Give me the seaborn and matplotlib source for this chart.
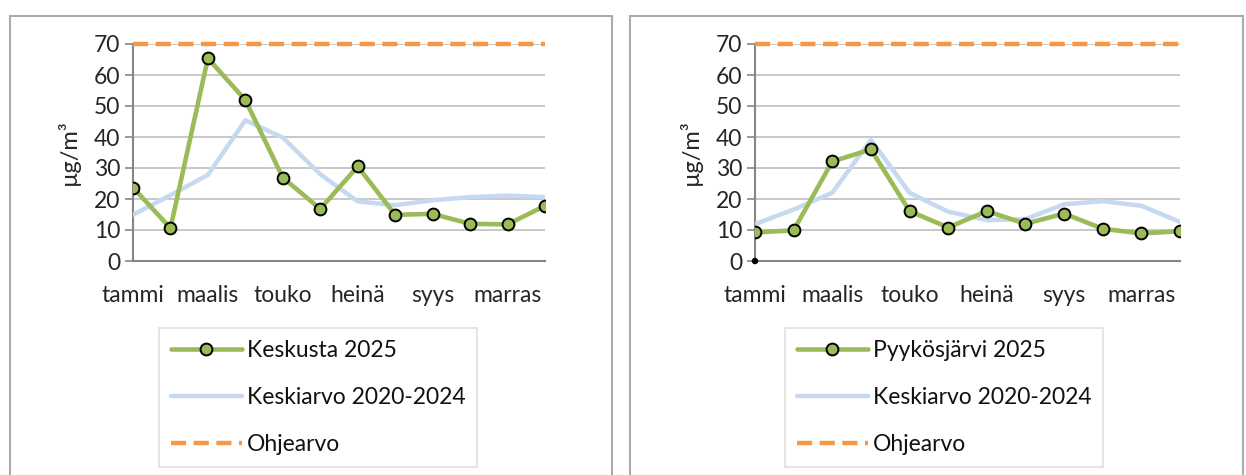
import numpy as np
import pandas as pd
import matplotlib
matplotlib.use("Agg")
import matplotlib.pyplot as plt
from matplotlib.patches import Rectangle
import seaborn as sns

sns.set_theme(style="white")
plt.rcParams['font.family'] = ['Lato', 'DejaVu Sans']
plt.rcParams['text.color'] = '#111111'

months = ["tammi", "helmi", "maalis", "huhti", "touko", "kesä",
          "heinä", "elo", "syys", "loka", "marras", "joulu"]

keskusta_2025 = [23.7, 10.6, 65.4, 51.9, 26.9, 16.8, 30.5, 14.9, 15.2, 12.0, 11.8, 17.8]
keskusta_avg = [14.9, 21.2, 27.8, 45.4, 39.8, 28.0, 19.2, 18.0, 19.6, 20.6, 21.1, 20.6]

pyk_2025 = [9.2, 9.9, 32.1, 36.0, 16.1, 10.8, 16.1, 12.0, 15.3, 10.4, 8.9, 9.6]
pyk_avg = [11.9, 16.6, 22.0, 39.1, 22.0, 15.9, 13.2, 13.5, 18.3, 19.3, 17.8, 12.6]
pyk_stray = [0.0]  # lone point shown at tammi

ohjearvo = [70, 70, 70, 70, 70, 70, 70, 70, 70, 70, 70, 70]

GREEN = '#9BBB59'
BLUE = '#C6D9F0'
ORANGE = '#F79646'
GRID = '#BFBFBF'
SPINE = '#868686'
FS = 16.5

W, H = 1246, 475
fig = plt.figure(figsize=(W / 100, H / 100), dpi=100)


def px(x0, y_top, x1, y_bot):
    return [x0 / W, (H - y_bot) / H, (x1 - x0) / W, (y_bot - y_top) / H]


# panel frames
for (l, r) in [(10, 612), (630, 1243)]:
    fig.add_artist(Rectangle((l / W, -0.05), (r - l) / W, (H - 16) / H + 0.05,
                             transform=fig.transFigure, fill=False,
                             edgecolor='#ABABAB', linewidth=1.5, zorder=0))


def draw_panel(ax, station, avg, label, legend_box, stray=None):
    xs = np.arange(len(months))
    df = pd.DataFrame({"kk": xs, "asema": station, "ka": avg, "ohje": ohjearvo})
    sns.lineplot(data=df, x="kk", y="ka", ax=ax, color=BLUE, linewidth=3.2,
                 label="Keskiarvo 2020-2024", zorder=3)
    sns.lineplot(data=df, x="kk", y="asema", ax=ax, color=GREEN, linewidth=3.3,
                 marker='o', markersize=8.5, markerfacecolor=GREEN,
                 markeredgecolor='black', markeredgewidth=1.4,
                 label=label, zorder=4)
    sns.lineplot(data=df, x="kk", y="ohje", ax=ax, color=ORANGE, linewidth=3.2,
                 dashes=False, label="Ohjearvo", zorder=5)
    ohje_line = ax.get_lines()[-1]
    ohje_line.set_dashes((3.4, 1.7))
    ohje_line.set_clip_on(False)
    if stray is not None:
        sns.scatterplot(x=xs[:len(stray)], y=stray, ax=ax, color='black', s=22,
                        edgecolor='none', zorder=6, clip_on=False, legend=False)

    ax.set_xlim(0, len(months) - 1)
    ax.set_ylim(0, 70)
    ax.set_yticks(range(0, 71, 10))
    ax.set_xticks(xs[::2])
    ax.set_xticklabels(months[::2])
    ax.grid(axis='y', color=GRID, linewidth=1.2)
    ax.grid(axis='x', visible=False)
    ax.set_axisbelow(True)
    for s in ['top', 'right']:
        ax.spines[s].set_visible(False)
    for s in ['left', 'bottom']:
        ax.spines[s].set_color(SPINE)
        ax.spines[s].set_linewidth(1.5)
    ax.tick_params(axis='y', length=6, width=1.2, color=SPINE, labelsize=FS, pad=3,
                   left=True)
    ax.tick_params(axis='x', length=0, labelsize=FS, pad=17)
    ax.set_xlabel("")
    ax.set_ylabel("µg/m³", fontsize=FS + 0.5, labelpad=10)

    handles, labels = ax.get_legend_handles_labels()
    order = [labels.index(label), labels.index("Keskiarvo 2020-2024"), labels.index("Ohjearvo")]
    l, t = legend_box
    leg = ax.legend([handles[i] for i in order], [labels[i] for i in order],
                    loc='upper left', bbox_to_anchor=(l / W, (H - t) / H),
                    bbox_transform=fig.transFigure, fontsize=FS, frameon=True,
                    fancybox=False, edgecolor='#D9D9D9', handlelength=3.1,
                    handletextpad=0.2, labelspacing=1.13, borderpad=0.52,
                    borderaxespad=0)
    leg.get_frame().set_linewidth(1.2)


ax1 = fig.add_axes(px(133, 44, 545, 261))
draw_panel(ax1, keskusta_2025, keskusta_avg, "Keskusta 2025", (159, 328))

ax2 = fig.add_axes(px(755, 44, 1180, 261))
draw_panel(ax2, pyk_2025, pyk_avg, "Pyykösjärvi 2025", (785, 328), stray=pyk_stray)

fig.savefig("out.png", dpi=100)
